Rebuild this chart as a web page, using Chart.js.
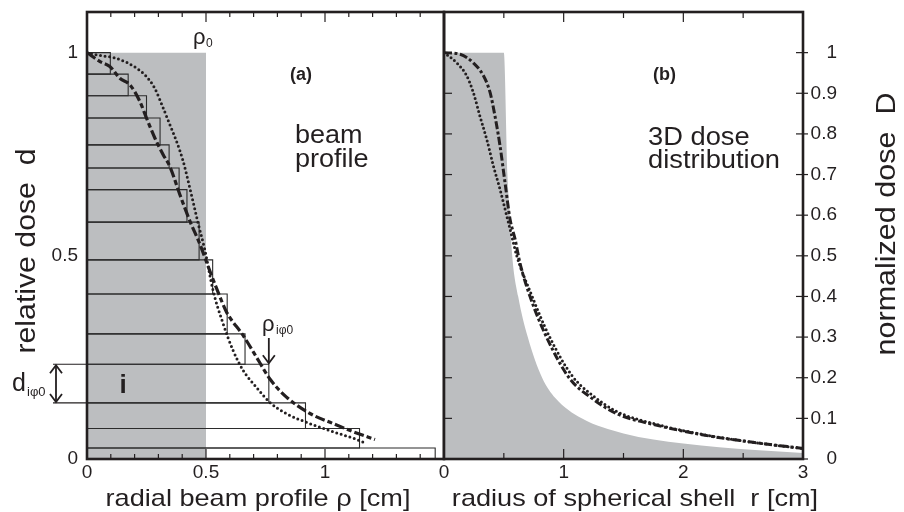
<!DOCTYPE html>
<html>
<head>
<meta charset="utf-8">
<script src="https://cdn.jsdelivr.net/npm/chart.js@4.4.0/dist/chart.umd.min.js"></script>
<style>
  html, body { margin: 0; padding: 0; background: #fff; }
  #wrap { position: relative; width: 904px; height: 512px; }
  canvas { position: absolute; left: 0; top: 0; }
</style>
</head>
<body>
<div id="wrap">
  <canvas id="chartA" width="904" height="512"></canvas>
  <canvas id="chartB" width="904" height="512"></canvas>
</div>
<script>
// ---- panel (a): radial beam profile ----
const rhoDashA  = [0, 0.055, 0.096, 0.138, 0.18, 0.222, 0.25, 0.285, 0.32, 0.348, 0.39, 0.432, 0.474, 0.516, 0.551, 0.586, 0.656, 0.725, 0.767, 0.837, 0.937, 1.035, 1.119, 1.21];
const doseDashA = [1, 0.978, 0.966, 0.937, 0.921, 0.88, 0.839, 0.79, 0.749, 0.72, 0.651, 0.586, 0.529, 0.463, 0.41, 0.362, 0.304, 0.238, 0.198, 0.153, 0.112, 0.087, 0.067, 0.048];
const rhoDotA   = [0, 0.055, 0.11, 0.166, 0.208, 0.25, 0.285, 0.32, 0.348, 0.376, 0.404, 0.425, 0.447, 0.467, 0.495, 0.53, 0.572, 0.614, 0.656, 0.711, 0.767, 0.837, 0.937, 1.035, 1.119, 1.175];
const doseDotA  = [1, 0.993, 0.988, 0.976, 0.962, 0.941, 0.912, 0.864, 0.823, 0.782, 0.733, 0.684, 0.63, 0.58, 0.515, 0.414, 0.333, 0.267, 0.218, 0.177, 0.14, 0.112, 0.087, 0.067, 0.051, 0.038];
// dose levels bounding the steps and the radius each step reaches
const stepBounds = [1, 0.947, 0.894, 0.839, 0.773, 0.716, 0.663, 0.583, 0.49, 0.406, 0.308, 0.233, 0.138, 0.075, 0.027, 0];
const stepWidths = [0.098, 0.173, 0.25, 0.307, 0.345, 0.387, 0.42, 0.471, 0.528, 0.589, 0.664, 0.764, 0.918, 1.145, 1.463];
const rho0 = 0.5;
const xTicksA = [0, 0.5, 1];
const yTicksA = [0, 0.5, 1];

// ---- panel (b): 3D dose distribution ----
const rDashB    = [0, 0.134, 0.245, 0.33, 0.385, 0.426, 0.468, 0.51, 0.552, 0.594, 0.635, 0.72, 0.86, 1.05, 1.22, 1.44, 1.78, 2.17, 2.61, 3.0];
const doseDashB = [1, 0.996, 0.975, 0.943, 0.902, 0.844, 0.771, 0.68, 0.59, 0.541, 0.482, 0.399, 0.298, 0.198, 0.153, 0.112, 0.083, 0.059, 0.04, 0.026];
const rDotB     = [0, 0.106, 0.19, 0.245, 0.3, 0.357, 0.413, 0.468, 0.51, 0.552, 0.608, 0.73, 0.875, 1.07, 1.24, 1.45, 1.78, 2.17, 2.61, 3.0];
const doseDotB  = [1, 0.975, 0.943, 0.902, 0.844, 0.787, 0.721, 0.664, 0.615, 0.566, 0.5, 0.405, 0.305, 0.205, 0.157, 0.116, 0.085, 0.06, 0.04, 0.026];
const rGrayB    = [0, 0.5, 0.53, 0.55, 0.57, 0.62, 0.70, 0.82, 0.93, 1.15, 1.5, 2.0, 2.6, 3.0];
const doseGrayB = [1, 1, 0.7, 0.6, 0.5, 0.4, 0.3, 0.2, 0.15, 0.1, 0.063, 0.038, 0.022, 0.015];
const xTicksB = [0, 1, 2, 3];
const yTicksB = [0, 0.1, 0.2, 0.3, 0.4, 0.5, 0.6, 0.7, 0.8, 0.9, 1];

const ink = '#231f20';
const shade = '#bcbec0';
const FONT = '"Liberation Sans", Arial, Helvetica, sans-serif';

const pts = (xs, ys) => xs.map((x, i) => ({x: x, y: ys[i]}));

function line(ctx, x1, y1, x2, y2) {
    ctx.beginPath();
    ctx.moveTo(x1, y1);
    ctx.lineTo(x2, y2);
    ctx.stroke();
}

// text with optional rotation and stretch along the writing direction
function label(ctx, s, x, y, size, opts = {}) {
    ctx.save();
    ctx.translate(x, y);
    if (opts.rot) ctx.rotate(opts.rot);
    ctx.scale(opts.stretch || 1, 1);
    ctx.font = (opts.bold ? 'bold ' : '') + size + 'px ' + FONT;
    ctx.textAlign = opts.align || 'left';
    ctx.textBaseline = opts.baseline || 'alphabetic';
    ctx.fillStyle = ink;
    ctx.fillText(s, 0, 0);
    ctx.restore();
}

function arrowHead(ctx, x, y, dir) {
    // dir = 1 points down, -1 points up
    ctx.beginPath();
    ctx.moveTo(x - 6, y - dir * 8);
    ctx.lineTo(x, y);
    ctx.lineTo(x + 6, y - dir * 8);
    ctx.stroke();
}

function curve(data, dash, width) {
    return {
        data: data,
        showLine: true,
        borderColor: ink,
        borderWidth: width,
        borderDash: dash,
        borderCapStyle: dash[0] === 0 ? 'round' : 'butt',
        pointRadius: 0,
        cubicInterpolationMode: 'monotone',
        fill: false,
        order: 0
    };
}

function baseOptions(xMax, pad) {
    return {
        responsive: false,
        animation: false,
        events: [],
        layout: { padding: pad },
        plugins: { legend: { display: false }, tooltip: { enabled: false } },
        scales: {
            x: { type: 'linear', min: 0, max: xMax, display: false },
            y: { type: 'linear', min: 0, max: 1.1, display: false }
        }
    };
}

// step rectangles, one outline each
const stepSets = stepWidths.map((w, i) => ({
    data: [
        {x: 0, y: stepBounds[i]}, {x: w, y: stepBounds[i]},
        {x: w, y: stepBounds[i + 1]}, {x: 0, y: stepBounds[i + 1]}
    ],
    showLine: true,
    borderColor: '#2b2b2b',
    borderWidth: 1.1,
    pointRadius: 0,
    fill: false,
    order: 1
}));

const decorA = {
    id: 'decorA',
    afterDraw(chart) {
        const {ctx, chartArea: a, scales: {x, y}} = chart;
        ctx.save();
        ctx.strokeStyle = ink;
        ctx.lineWidth = 1.2;
        for (let i = 0; i <= 15; i++) {
            const px = x.getPixelForValue(i / 10);
            const len = i % 5 === 0 ? 10 : 5;
            line(ctx, px, a.top, px, a.top + len);
            line(ctx, px, a.bottom, px, a.bottom - len);
        }
        ctx.lineWidth = 2.6;
        ctx.strokeRect(a.left, a.top, a.right - a.left, a.bottom - a.top);

        xTicksA.forEach(v => label(ctx, String(v), x.getPixelForValue(v), 478, 19, {align: 'center'}));
        yTicksA.forEach(v => label(ctx, String(v), 78, y.getPixelForValue(v), 19, {align: 'right', baseline: 'middle'}));

        label(ctx, 'radial beam profile \u03c1 [cm]', 258, 506, 24, {align: 'center', stretch: 1.13});
        label(ctx, 'relative dose  d', 35, 251, 27, {align: 'center', rot: -Math.PI / 2, stretch: 1.12});

        label(ctx, '(a)', 290, 80, 18, {bold: true});
        label(ctx, 'beam', 295, 143, 26, {stretch: 1.04});
        label(ctx, 'profile', 295, 167, 26, {stretch: 1.04});

        // rho_0 above the shaded block
        label(ctx, '\u03c1', 193, 44, 22);
        label(ctx, '0', 206, 47, 12);

        // bar i: extension lines, double arrow, labels
        const yTop = y.getPixelForValue(stepBounds[11]);
        const yBot = y.getPixelForValue(stepBounds[12]);
        ctx.lineWidth = 1.1;
        line(ctx, 53, yTop, a.left, yTop);
        line(ctx, 53, yBot, a.left, yBot);
        ctx.lineWidth = 1.8;
        line(ctx, 56, yTop + 1, 56, yBot - 1);
        arrowHead(ctx, 56, yTop + 1, -1);
        arrowHead(ctx, 56, yBot - 1, 1);
        label(ctx, 'd', 12, 391, 25);
        label(ctx, 'i\u03c60', 27, 396, 13);
        label(ctx, 'i', 123, 393, 26, {bold: true, align: 'center'});

        // rho_i arrow at the step edge
        const xr = x.getPixelForValue(stepWidths[11]);
        line(ctx, xr, 338, xr, yTop - 1);
        arrowHead(ctx, xr, yTop - 1, 1);
        label(ctx, '\u03c1', 262, 331, 22);
        label(ctx, 'i\u03c60', 276, 334, 12);
        ctx.restore();
    }
};

const decorB = {
    id: 'decorB',
    afterDraw(chart) {
        const {ctx, chartArea: a, scales: {x, y}} = chart;
        ctx.save();
        ctx.strokeStyle = ink;
        ctx.lineWidth = 1.2;
        for (let i = 0; i <= 6; i++) {
            const px = x.getPixelForValue(i / 2);
            const len = i % 2 === 0 ? 10 : 6;
            line(ctx, px, a.top, px, a.top + len);
            line(ctx, px, a.bottom, px, a.bottom - len);
        }
        yTicksB.forEach(v => {
            const py = y.getPixelForValue(v);
            line(ctx, a.left, py, a.left + 8, py);
            line(ctx, a.right - 7, py, a.right + 5, py);
        });
        ctx.lineWidth = 2.6;
        ctx.strokeRect(a.left, a.top, a.right - a.left, a.bottom - a.top);

        xTicksB.forEach(v => label(ctx, String(v), x.getPixelForValue(v), 478, 19, {align: 'center'}));
        yTicksB.forEach(v => label(ctx, String(v), 837, y.getPixelForValue(v), 19, {align: 'right', baseline: 'middle'}));

        label(ctx, 'radius of spherical shell  r [cm]', 635, 506, 24, {align: 'center', stretch: 1.13});
        label(ctx, 'normalized dose  D', 895, 224, 27, {align: 'center', rot: -Math.PI / 2, stretch: 1.13});

        label(ctx, '(b)', 653, 80, 18, {bold: true});
        label(ctx, '3D dose', 648, 145, 26, {stretch: 1.05});
        label(ctx, 'distribution', 648, 168, 26, {stretch: 1.05});
        ctx.restore();
    }
};

new Chart(document.getElementById('chartA'), {
    type: 'scatter',
    data: {
        datasets: [
            curve(pts(rhoDashA, doseDashA), [10, 3, 5, 3], 3.2),
            curve(pts(rhoDotA, doseDotA), [0, 4.6], 3),
            ...stepSets,
            {
                data: [{x: 0, y: 1}, {x: rho0, y: 1}, {x: rho0, y: 0}],
                showLine: true,
                borderWidth: 0,
                borderColor: 'rgba(0,0,0,0)',
                backgroundColor: shade,
                pointRadius: 0,
                fill: 'origin',
                order: 2
            }
        ]
    },
    options: baseOptions(1.5, {left: 87, right: 460, top: 12, bottom: 53}),
    plugins: [decorA]
});

new Chart(document.getElementById('chartB'), {
    type: 'scatter',
    data: {
        datasets: [
            curve(pts(rDashB, doseDashB), [8, 2.5, 3, 2.5], 3),
            curve(pts(rDotB, doseDotB), [0, 4.4], 3),
            {
                data: pts(rGrayB, doseGrayB),
                showLine: true,
                borderWidth: 0,
                borderColor: 'rgba(0,0,0,0)',
                backgroundColor: shade,
                pointRadius: 0,
                cubicInterpolationMode: 'monotone',
                fill: 'origin',
                order: 2
            }
        ]
    },
    options: baseOptions(3, {left: 444, right: 101, top: 12, bottom: 53}),
    plugins: [decorB]
});
</script>
</body>
</html>
